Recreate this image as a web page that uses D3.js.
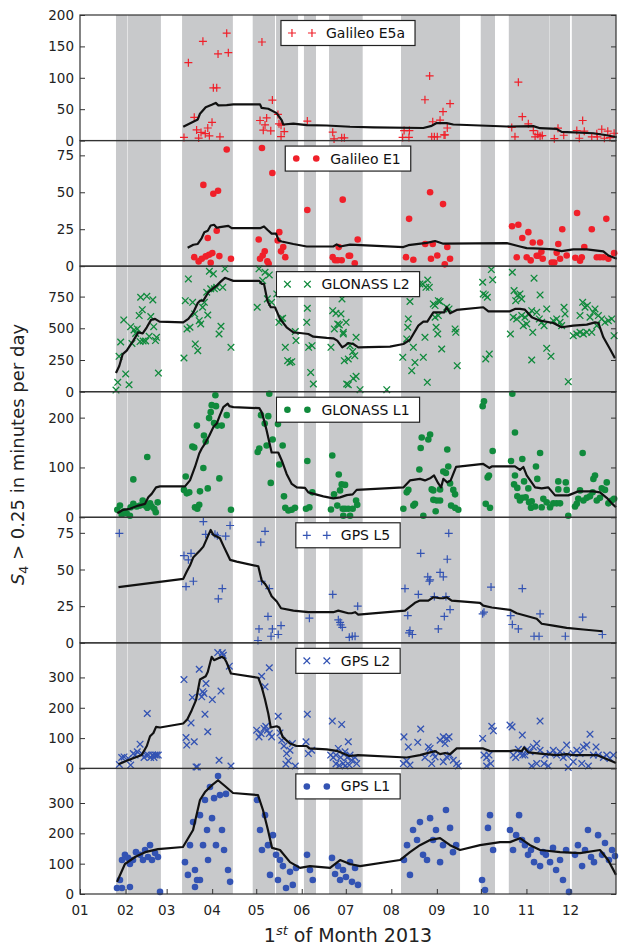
<!DOCTYPE html>
<html>
<head>
<meta charset="utf-8">
<script src="https://cdn.jsdelivr.net/npm/d3@7"></script>
<style>
  body { margin: 0; background: #fff; }
  text { font-family: "DejaVu Sans", sans-serif; }
</style>
</head>
<body>
<svg id="chart" width="627" height="947"></svg>
<script>
// periods shaded in grey, in day of year 2013
const bands = [[24.5, 32.1], [32.4, 55.1], [69.5, 104.1], [117.6, 132.8], [133.5, 148.5],
  [152.5, 160.7], [169.6, 192.5], [218.6, 258.8], [272.9, 282.6], [292, 319.6], [319.75, 333.7], [334.9, 365]];

// [day of year, minutes]
const e5aPts = [[70.8,5],[73.8,124],[77.8,37],[79.4,17],[80.8,4],[82.4,13],[83.7,158],[85.3,11],[87,20],[88.1,7.5],[89.9,29],[90.8,84],[93.1,84],[94,138],[95.3,6],[99.9,171],[101,140],
  [122.6,32],[123.9,157],[124.8,16.5],[126,25],[127.1,36],[129.9,15.5],[131,64.5],[134.8,41.6],[135.5,26.7],[136.9,24.5],[136.9,6.4],[139.1,14.4],[154.8,31],[172.1,13.3],[173,2.7],[178.2,4.3],[180,4.3],
  [219.7,5],[220.7,16],[224,5],[224.3,16],[234.9,65],[238.1,103],[239.5,6],[240.2,30],[241.3,6],[243.3,6],[245.2,32.5],[247.2,46],[247.9,9],[248.6,9],[250.1,20],[252,58.7],
  [294,21],[296.2,6],[298.5,93],[301.2,38],[305.3,26.7],[308.7,16],[309.9,6],[311.7,10],[313.3,7],[314.8,8],[323,3],[325.5,19.7],[329.4,8.5],[338.3,16],[340,3.7],[342.3,32],[343.4,15],
  [348.5,6],[351.9,11],[352.3,6],[355.3,18],[357.1,3.7],[359.4,15],[360.9,4.8],[363.7,11.7]];
const e5aLine = [[70.3,22],[80.2,33.6],[81.7,42.7],[85.6,53],[89.7,57],[92.4,60],[94.2,56],[99.9,56.5],[104.4,57.6],[122.6,57.6],[123.7,52],[128.2,50.7],[133.9,43.7],[137.4,32],[138.4,25.6],
  [145.3,27],[154.4,24.5],[168,24],[183.9,22],[199.7,21],[233.8,20],[239.5,23.5],[242.9,28],[249.7,27.7],[254.2,25.6],[290.6,22.4],[308.7,23],[313.3,19.7],[324.6,18.7],[328,13.9],[349.6,11.7],[358.7,8.5],[365.5,5.3]];

const e1Pts = [[77.8,6.1],[80.8,3.2],[82.9,5],[84,55],[85.6,6.6],[87,19],[87.9,7.7],[89,2.3],[90.1,8.8],[90.8,49],[93.1,24],[94,51],[94.9,6.8],[99.9,79],[102.8,5],
  [121.7,18],[123.9,80],[122.6,5],[124.4,7.2],[125.8,10],[127.6,3.2],[128.5,1.6],[131,63],[134.6,17.4],[135.7,23],[136.9,10],[138.4,12.9],[139.8,6.1],[154.8,38],
  [172.1,6.1],[173.7,4],[175.5,4],[178.2,4],[176.2,12.9],[178.9,45],[183,7],[183.9,7],[187.1,2],[189.1,18],
  [222,6.1],[224.1,32],[227,4.3],[235.1,15],[238.4,50],[239,5],[240.2,15],[243.3,7.2],[247.2,42],[248.4,1.2],[250.1,13],[252,5],
  [294.2,27],[297.4,6],[298.5,28],[301.2,19],[304.2,6],[305.3,23],[306.9,3.9],[308.3,16],[311,7],[312.1,7],[313.3,16],[314.2,9.7],[315.1,5],[321.2,2.5],[323,2.5],[324.6,9],[325.7,15],[326.9,5],
  [328.4,25],[331.4,7.2],[337.3,5.7],[338.5,36],[340.5,3.6],[341.7,6],[343.4,13],[348.5,25],[351.9,6],[354.1,6],[356.4,6],[358.4,32],[359.8,5],[363.7,8.8]];
const e1Line = [[73.3,12.4],[77.2,14.5],[80.2,15],[82.9,19],[84.7,23],[87,24],[89,27.5],[91.3,28],[93.1,26],[95.3,26.4],[101,27.3],[103.3,25.7],[122.6,25.7],[125.3,26.9],[127.6,24.6],[130.5,22],
  [133.5,22],[135.3,17.4],[137.4,16.7],[145.3,15],[154.4,13.3],[172.5,13.3],[174.8,14.7],[177.1,13.3],[183.9,14.6],[220.2,12.9],[223.6,14.2],[236.1,15.8],[241.8,17],[247.4,15.2],[290.6,15.6],
  [299.6,13.3],[304.2,12.2],[313.3,11.8],[322.3,11.3],[328,10.2],[335.9,11.3],[345.1,11.3],[356.4,10],[359.8,7.2],[365.5,5]];

const gloL2Pts = [[24.5,13],[25.7,74],[26.6,279],[27.7,392],[29.8,566],[31.1,140],[33.4,55],[34.5,513],[35.4,381],[36.8,487],[37.9,460],[39,495],[40.3,600],[41.3,745],[42.4,647],[43,400],[44.7,400],
  [45.5,752],[47.1,437],[48.2,592],[49.6,724],[50.2,513],[51.4,403],[52.1,429],[53.4,147],[40.9,395],
  [70.8,266],[71.7,718],[73.8,889],[72.9,495],[74.9,508],[76.7,705],[78.1,613],[78.5,377],[80.2,324],[81.2,560],[82.2,534],[83.5,666],[84.7,705],[86.3,784],[87,605],[88.1,950],[89,811],[90.8,929],
  [91.5,811],[93.1,823],[94.7,455],[96,516],[97.2,823],[98.7,969],[102.8,350],
  [120.7,666],[121.9,969],[124.4,876],[126,942],[128.9,921],[127.6,732],[130.5,705],[134,771],[135.5,547],[136.9,574],[138,579],[139.8,350],[141.4,245],[143,231],[144.2,237],[146.6,474],[147.1,403],
  [154.4,547],[154.8,658],[155.7,350],[157.1,152],[158,363],[158.9,61],
  [170.9,350],[172.1,639],[173.2,495],[174.3,618],[175.5,534],[176.6,527],[177.7,613],[178.4,732],[179.3,455],[180,245],[181.2,547],[181.6,61],[179.3,468],[183.9,363],[185.7,316],[187.1,284],
  [182.7,258],[186.1,105],[188,121],[182.7,55],[190.7,16],[188,429],[208.9,16],
  [219.8,271],[223.6,574],[223.2,508],[222.5,416],[224.7,711],[227,350],[228.1,231],[225.9,166],[231.5,850],[233.4,850],[235.6,823],[237.9,823],[236.8,880],[233.8,271],[234.9,429],[236.5,74],
  [240.6,692],[241.8,679],[244,718],[245.2,711],[241.8,587],[244,600],[242.5,508],[243.6,455],[246.3,337],[249.7,666],[251.3,653],[255.4,495],[255.9,468],[256.9,205],
  [274.2,863],[274.6,771],[276,763],[277.4,745],[276.3,258],[278.7,297],[280.1,963],[281,882],
  [293.1,455],[294.4,942],[295.6,797],[296.7,718],[297.8,758],[299.6,771],[300.8,732],[295.1,587],[297.4,574],[300.8,600],[303,587],[301.9,521],[304.2,534],[306,613],[307.6,639],[308.3,468],
  [309.2,895],[313.3,763],[307.6,250],[311,626],[312.8,574],[314.4,547],[316,521],[317.8,653],[317.8,342],[320.7,279],[322.3,560],[324.6,574],[326.9,547],[328,521],[329.6,666],[330.3,613],
  [332.5,79],[335.9,442],[338.3,455],[340.5,468],[342.8,455],[345.1,468],[340.5,600],[342.3,705],[343.9,666],[345.5,679],[347.3,587],[349.6,626],[350.7,653],[353,600],[355.3,574],[357.5,547],
  [359.8,560],[362.1,574],[363.7,442],[348.5,468],[351.9,521]];
const gloL2Line = [[24.5,147],[26.8,205],[29.1,297],[31.8,324],[36.3,403],[39.7,468],[42.7,460],[45.5,508],[48.4,566],[51.1,574],[54.1,553],[70.3,547],[73.8,574],[77.2,626],[80.2,700],[81.7,718],
  [84,718],[87.4,784],[90.8,816],[93.1,837],[95.8,868],[98.7,898],[101,889],[104.4,874],[122.1,874],[123.7,850],[125.3,850],[127.6,718],[129.9,666],[132.8,666],[136.2,574],[140.7,508],[145.3,468],
  [149.8,463],[155.5,455],[158.9,434],[168,424],[172.5,421],[175.2,403],[178.6,350],[180.5,363],[182.7,384],[186.1,376],[189.5,350],[211.1,355],[220.2,376],[224.7,410],[230.4,521],[233.8,553],
  [236.5,553],[240.6,626],[245.2,626],[248.1,626],[249.7,666],[252,618],[256.5,645],[274.6,666],[278.1,634],[292.8,634],[296.2,653],[299.6,653],[303,647],[307.6,587],[313.3,560],[322.3,542],
  [328,508],[335.9,521],[345.1,529],[350.7,547],[353,542],[356.4,429],[360.9,337],[364.3,263]];

const gloL1Pts = [[25.4,15],[27.2,23.5],[28.4,5],[30,12],[31.8,8],[34,3],[34.5,20],[36.3,27],[38.6,21.5],[40.9,23.5],[42.7,33.6],[44.3,23.5],[45.8,19],[47.7,28],[48.8,21.5],[50.6,17],[52.9,30],
  [36.3,76],[45.8,121],[51.6,10],
  [72,82],[70.8,55],[72.7,48],[74.4,50],[76.5,142],[77.8,140],[78.3,20],[79.9,17],[81.2,25],[79.6,184],[81.7,52],[84,99],[84.4,164],[85.6,152],[87,58],[87.9,199],[89,211],[89.7,225],[91.3,189],
  [92.6,223],[93.5,184],[92.2,245],[94.9,78],[96.5,184],[99.9,205],[102.8,15],
  [121,131],[122.1,138],[123.3,205],[125.8,188],[127.1,144],[128.2,203],[128.9,248],[129.9,69],[131.2,156],[134.8,187],[135.7,106],[138,144],[138.9,42],[139.8,19],[141.9,13.5],[144.2,15],[146.4,19],
  [154.8,113],[153.9,17],[156.2,20],[158.2,50],
  [170.9,15.5],[171.8,124],[173,46],[175.2,23.5],[177.1,54],[178.9,17],[176.2,86],[178.2,66],[180.5,65],[180.5,17],[182.7,17],[185.7,17],[188,33.6],[188.8,25],[179.3,3],[183.9,3],
  [220.2,17],[223.6,55],[222.5,50],[227,23.5],[228.1,27],[231.1,96],[232,139],[232.7,160],[233.8,3],[237.2,156],[238.4,166],[239.5,56],[240.6,54],[240.6,35],[242.9,33.6],[245.2,33.6],[242.2,12],
  [245.2,56],[247.4,92],[249.2,89],[250.1,136],[250.8,102],[252,68],[254.2,55],[255.4,46],[252.7,23.5],[255.4,19],[257.6,15],
  [274.2,223],[275.1,233],[276.3,27],[279.2,19],[277.6,80],[278.5,84],[281,133],
  [293.5,113],[294.4,248],[295.6,66],[297.8,59],[296.2,170],[296.2,84],[297.8,42],[299.6,33.6],[301.2,39],[301.2,117],[302.4,72],[303.5,40],[305.8,30],[307.6,32],[305.3,58],[307.1,19],[309.9,21.5],
  [310.5,102],[311.4,77],[313.3,129],[314.4,20],[315.5,37],[317.8,30],[320.1,20],[322.3,28],[324.6,28],[326.9,28],[325.7,72],[325.7,56],[330.8,70],[331.4,55],[332.5,3],[337.1,21.5],[338.3,27],
  [339.3,37],[340.5,54],[342.3,129],[342.8,33.6],[345.1,39],[347.3,42],[349.1,50],[349.6,77],[350.7,84],[351.9,33.6],[354.1,39],[355.3,58],[357.5,55],[358.7,70],[359.8,28],[362.1,33.6],[363.7,37]];
const gloL1Line = [[25.4,8],[29.4,15],[34,17],[39.7,23.5],[44.3,27],[46.5,40],[48.8,47],[51.8,60],[54.5,62],[71.5,62],[74.9,74],[78.3,101],[81.2,128],[82.9,138],[85.1,148],[88.1,164],[90.8,181],
  [93.1,188],[95.3,205],[97.6,221],[100.6,228],[101.7,223],[104.4,221],[122.1,219],[123.7,211],[125.3,195],[127.1,174],[129.4,144],[130.5,130],[135,130],[137.4,114],[140.7,87],[144.2,67],[147.6,60],
  [153.2,59],[155.5,50],[165.7,42],[172.5,38],[177.1,40],[181.6,44.5],[185.7,46],[188.4,55],[220.2,60],[224.7,74],[231.5,77],[234.9,74],[238.8,79],[241.1,84],[244,68],[245.9,60],[247.4,77],
  [250.1,70],[252.4,74],[256.1,101],[274.6,107],[278.7,99],[280.4,102],[296.2,102],[299.6,95],[301.9,101],[304.2,84],[309.9,60],[314.4,58],[318.9,60],[323.5,44],[332.5,44],[339.3,52],[349.6,52],
  [354.1,50],[358.7,39],[362.1,28],[365,20]];

const l5Pts = [[26.8,74.7],[70.8,59.5],[72.2,38.4],[73.8,56.6],[75.6,61],[77.2,42],[84,82.7],[85.6,74],[91.9,74],[93.5,73],[94.2,30],[96.9,37],[99.2,72.7],[102.2,80],
  [121.2,1.6],[121.9,9.5],[123.1,68.6],[123.7,42],[126,76],[128,18],[128.9,37],[130.1,4.5],[131,9.5],[135,5.7],[136.9,11.8],[156.2,16.8],[172.1,33],[175.9,15.7],[177.5,12.3],[178.6,10.6],
  [183.4,3.8],[177.1,14],[185.4,4.5],[187.3,4.5],[189.1,25],
  [221.3,37],[223.2,18.6],[224.7,8.4],[224.1,6.8],[226.3,5.7],[230.4,33],[232,61],[236.8,45],[237.9,42],[238.4,43],[241.3,31.6],[244,9.5],[245.2,48],[247.4,45],[248.1,18],[249.2,31.6],[250.1,57],
  [251.1,74.7],[252,22.7],
  [274.2,19.8],[275.1,20.9],[279.9,38],[293.3,18.6],[294.4,12.5],[298.5,9.5],[301.2,37],[309.2,4.5],[312.6,4.5],[313.3,19.8],[330.5,4.5],[342.3,17.5],[355.7,5.7]];
const l5Line = [[26.2,38],[70.3,43.6],[72.7,48.6],[74.9,52.7],[77.2,58.4],[81.7,63],[84,65.6],[86.3,70.9],[89,77],[90.8,73.6],[93.1,72.5],[95.3,71.3],[97.6,66.3],[102.2,56.6],[106.7,55.4],
  [121.4,52.2],[123.7,42.5],[126,40.2],[128.2,36.8],[130.5,31.8],[134,28.2],[136.9,23.6],[145.3,22],[155.5,20.9],[172.5,20.9],[175.9,22],[182.7,20.2],[185,20.2],[187.3,20.9],[189.5,19.3],
  [221.3,22],[228.1,27.3],[231.5,28.8],[237.2,28.8],[240.6,31.1],[245.2,30.4],[247.4,30.4],[249.7,31.1],[253.1,28.8],[272.4,27.3],[274.6,25.4],[280.4,24.1],[292.8,22.5],[297.4,20.2],[311,16.4],
  [314.4,13],[322.3,11.8],[331.4,10.2],[342.8,9.1],[355.7,7.9]];

const l2Pts = [[26.8,13],[28.4,36],[30,38],[32.9,33],[34.5,11],[36.3,49],[37.5,44],[39,55],[40.9,80],[42,49],[43.6,36],[45,44],[45.8,181],[46.5,44],[48.1,36],[49.5,44],[51.1,44],[52.2,44],[53.3,44],[50.4,36],
  [70.8,293],[72.2,102],[72.7,77],[75.6,150],[76.5,234],[77.8,88],[79,5],[79.9,5],[81.2,327],[82.9,236],[83.6,253],[84.4,247],[85.1,179],[85.8,280],[87,121],[90.1,227],[93.8,382],[96.9,381],
  [97.6,373],[94.7,27],[96,255],[101.7,337],[102.8,8],
  [120.3,126],[121.9,104],[123.3,115],[125.3,132],[126.5,139],[127.6,126],[128.9,115],[130.5,104],[123.7,304],[126,269],[128.9,332],[135,172],[136.2,117],[137.4,93],[138.9,74],[140.7,49],[143,60],
  [144.6,82],[140.2,14],[141.9,25],[146.6,8],
  [153.9,88],[154.8,179],[155.5,49],[157.8,60],
  [170.7,44],[171.8,156],[172.5,36],[174.3,44],[175.9,66],[177.5,36],[178.2,145],[174.3,15],[176.6,10],[180.5,8],[182,36],[180.5,55],[182.7,88],[183.9,44],[185,27],[187.3,36],[188.4,16],[179.3,16],[183.4,11],
  [220.6,104],[223.6,71],[222.5,25],[224.7,11],[220.2,16],[230,86],[232,130],[234.9,36],[237.2,71],[238.4,66],[239.5,16],[240.6,49],[241.8,38],[245.2,93],[247.4,104],[248.6,82],[249.7,99],[251.3,104],
  [252,44],[254.2,27],[256.5,16],[257.6,8],[249.7,38],[247.4,22],
  [274.2,99],[275.1,44],[276.9,36],[278.5,44],[279.7,16],[276.9,8],[280.4,139],[281.5,124],
  [292.8,143],[294.2,137],[295.1,44],[296.7,36],[298.5,63],[299.6,49],[301.5,44],[303,44],[304.6,63],[306.5,55],[308.7,71],[311,82],[313.3,60],[316.7,44],[301.2,110],[313.3,156],[307.6,8],[311,16],
  [316,16],[318.9,8],[320.1,49],[322.3,60],[324.6,44],[326.9,55],[329.1,36],[331.4,44],[332.5,3],[331.4,77],[335.9,49],[338.3,60],[340.5,49],[342.8,71],[345.1,77],[347.3,113],[349.6,44],[351.4,71],
  [353,44],[356.4,36],[358.7,44],[360.9,33],[363.2,44],[335.9,22],[341.7,16],[346.2,8]];
const l2Line = [[26.2,14],[31.8,25],[42,44],[45.5,74],[47.7,106],[50,117],[51.8,137],[54.5,135],[70.3,148],[73.1,162],[76.1,192],[79,225],[81.7,293],[85.6,304],[87,318],[89.7,368],[91.3,357],
  [94.2,363],[96.5,368],[98.3,363],[99.9,349],[102.8,313],[121.4,299],[123.7,269],[126,227],[128.2,181],[129.9,135],[134,139],[135.7,135],[138,104],[143,82],[147.6,74],[154.4,74],[156.2,66],
  [168,63],[174.8,58],[183.4,41],[189.5,44],[222.5,36],[231.5,44],[238.4,53],[241.8,57],[245.2,47],[248.6,51],[252,47],[256.5,66],[274.6,66],[279.2,57],[292.8,57],[296.2,60],[300.8,57],[302.4,69],
  [305.3,53],[313.3,49],[324.6,44],[331.4,47],[335.9,44],[351.9,44],[358.7,31],[365,18]];

const l1Pts = [[25.2,20],[27.2,46],[28.6,112],[30.6,129],[32.7,119],[34,99],[36.1,112],[38.1,138],[40.9,129],[42.9,112],[44.3,145],[46.3,122],[47.7,161],[49,112],[51.1,135],[53.1,122],[54.5,7],[34,23],[28.6,20],
  [71.5,105],[73.5,63],[74.9,161],[77,237],[78.3,79],[79.7,46],[81.7,260],[83.8,161],[85.1,310],[86.5,211],[87.2,112],[88.5,353],[89.9,250],[91.3,316],[92.6,161],[94,389],[95.3,326],[96.7,211],
  [98.1,145],[99.4,330],[100.8,79],[102.2,40],[81.7,46],[78.3,23],
  [120.5,310],[122.6,211],[123.9,145],[126,260],[128,161],[129.4,63],[131.4,194],[133.5,129],[134.8,46],[136.2,112],[138.2,92],[140.3,20],[143,73],[144.9,30],[147.1,86],
  [154.6,129],[156.6,79],[158.5,46],
  [171.6,119],[173.7,66],[175.7,92],[177.1,46],[179.1,79],[181.1,56],[183.9,105],[185.2,40],[187.3,86],[189.3,30],
  [220.6,112],[222.7,161],[224.7,63],[226.8,211],[229.5,178],[231.5,237],[233.6,129],[236.3,112],[238.4,250],[240.4,178],[242.4,211],[245.2,105],[247.2,161],[249.2,277],[252,218],[254,138],[256.1,161],
  [273.8,46],[275.8,13],[277.8,218],[279.2,260],[281.3,145],
  [292.8,211],[294.9,145],[297,194],[299,260],[301,178],[303,161],[305.1,129],[307.1,145],[309.2,105],[311.2,178],[313.3,92],[315.3,138],[317.3,129],[320.1,105],[322.1,152],[324.2,79],[326.9,112],
  [328.9,46],[331,145],[333,7],[337.1,129],[339.1,161],[341.9,92],[343.9,145],[345.9,211],[348,122],[350,105],[352.8,194],[355.5,129],[357.5,168],[360.2,112],[362.3,145],[364.3,125]];
const l1Line = [[25.2,40],[30.6,99],[37.5,122],[44.3,138],[53.1,148],[70.1,155],[77,211],[81.7,310],[85.1,336],[89.9,359],[94,375],[98.7,356],[104.2,333],[121.2,326],[124.6,277],[128,211],
  [130.8,152],[136.2,145],[143,105],[149.8,86],[156.6,92],[170.3,86],[177.1,112],[183.9,99],[190.7,92],[217.9,112],[224.7,138],[231.5,161],[238.4,178],[245.2,184],[252,161],[258.8,145],
  [272.4,161],[286,171],[292.8,171],[299.6,184],[306.5,161],[313.3,145],[326.9,138],[340.5,135],[354.1,145],[359.6,112],[365,63]];

const names = ["Galileo E5a", "Galileo E1", "GLONASS L2", "GLONASS L1", "GPS L5", "GPS L2", "GPS L1"];
const yMax = [200, 85, 990, 252, 85.6, 414, 414];
const yTicks = [[0, 50, 100, 150, 200], [0, 25, 50, 75], [0, 250, 500, 750], [0, 100, 200], [0, 25, 50, 75], [0, 100, 200, 300], [0, 100, 200, 300]];

const red = "#f0202a", green = "#108a3c", blue = "#3353b3";
const panels = [
  { pts: e5aPts, line: e5aLine, color: red, mark: "plus" },
  { pts: e1Pts, line: e1Line, color: red, mark: "dot" },
  { pts: gloL2Pts, line: gloL2Line, color: green, mark: "cross" },
  { pts: gloL1Pts, line: gloL1Line, color: green, mark: "dot" },
  { pts: l5Pts, line: l5Line, color: blue, mark: "plus" },
  { pts: l2Pts, line: l2Line, color: blue, mark: "cross" },
  { pts: l1Pts, line: l1Line, color: blue, mark: "dot" },
];

const svg = d3.select("#chart");
const padL = 80, padR = 616, padT = 15, padB = 894;
const ph = (padB - padT) / panels.length;
const t0 = new Date(2013, 0, 1);
const toDate = (d) => new Date(t0.getTime() + d * 864e5);

const x = d3.scaleTime().domain([t0, new Date(2014, 0, 1)]).range([padL, padR]);

// grey periods behind everything
svg.append("g").selectAll("rect").data(bands).join("rect")
  .attr("x", (d) => x(toDate(d[0])))
  .attr("width", (d) => x(toDate(d[1])) - x(toDate(d[0])))
  .attr("y", padT).attr("height", padB - padT)
  .attr("fill", "#c8c9cb");

function drawMark(g, kind, color) {
  if (kind === "dot") {
    g.append("circle").attr("r", 3.3).attr("fill", color);
  } else if (kind === "plus") {
    g.append("path").attr("d", "M-4,0H4M0,-4V4").attr("stroke", color).attr("stroke-width", 1.2).attr("fill", "none");
  } else {
    g.append("path").attr("d", "M-3.3,-3.3L3.3,3.3M-3.3,3.3L3.3,-3.3").attr("stroke", color).attr("stroke-width", 1.3).attr("fill", "none");
  }
}

panels.forEach((p, i) => {
  const y0 = padT + i * ph;
  const y = d3.scaleLinear().domain([0, yMax[i]]).range([y0 + ph, y0]);
  const g = svg.append("g");

  // y axis left and right, ticks inward
  g.append("g").attr("transform", `translate(${padL},0)`)
    .call(d3.axisRight(y).tickValues(yTicks[i]).tickSize(5).tickFormat(""))
    .call((a) => { a.select(".domain").remove(); a.selectAll("line").attr("stroke", "#333"); });
  g.append("g").attr("transform", `translate(${padR},0)`)
    .call(d3.axisLeft(y).tickValues(yTicks[i]).tickSize(5).tickFormat(""))
    .call((a) => { a.select(".domain").remove(); a.selectAll("line").attr("stroke", "#333"); });
  g.append("g").selectAll("text").data(yTicks[i]).join("text")
    .attr("x", padL - 6).attr("y", (d) => y(d) + 5)
    .attr("text-anchor", "end").attr("font-size", 13.5).attr("fill", "#222")
    .text((d) => d);

  // scatter
  p.pts.forEach((d) => {
    const m = g.append("g").attr("transform", `translate(${x(toDate(d[0]))},${y(d[1])})`);
    drawMark(m, p.mark, p.color);
  });

  // running line
  g.append("path").datum(p.line)
    .attr("d", d3.line().x((d) => x(toDate(d[0]))).y((d) => y(d[1])))
    .attr("fill", "none").attr("stroke", "#111").attr("stroke-width", 2.2)
    .attr("stroke-linejoin", "round");

  g.append("rect").attr("x", padL).attr("y", y0).attr("width", padR - padL).attr("height", ph)
    .attr("fill", "none").attr("stroke", "#333").attr("stroke-width", 1.2);

  // legend
  const lg = g.append("g");
  const box = lg.append("rect").attr("fill", "#fff").attr("stroke", "#222").attr("stroke-width", 1.2);
  const txt = lg.append("text").attr("font-size", 14).attr("fill", "#111").text(names[i]);
  const tw = txt.node().getComputedTextLength();
  const bw = tw + 55, bx = (padL + padR) / 2 - bw / 2, by = y0 + 5.5, bh = 25;
  box.attr("x", bx).attr("y", by).attr("width", bw).attr("height", bh);
  txt.attr("x", bx + 45).attr("y", by + 17.5);
  [bx + 11, bx + 31].forEach((mx) => {
    drawMark(lg.append("g").attr("transform", `translate(${mx},${by + bh / 2})`), p.mark, p.color);
  });
});

// month axis
const months = d3.timeMonth.range(t0, new Date(2013, 11, 2));
svg.append("g").attr("transform", `translate(0,${padB})`)
  .call(d3.axisTop(x).tickValues(months).tickSize(5).tickFormat(""))
  .call((a) => { a.select(".domain").remove(); a.selectAll("line").attr("stroke", "#333"); });
svg.append("g").selectAll("text").data(months).join("text")
  .attr("x", (d) => x(d)).attr("y", padB + 21)
  .attr("text-anchor", "middle").attr("font-size", 13.5).attr("fill", "#222")
  .text(d3.timeFormat("%m"));

// axis titles
const xl = svg.append("text").attr("x", (padL + padR) / 2).attr("y", 942)
  .attr("text-anchor", "middle").attr("font-size", 19).attr("fill", "#222");
xl.append("tspan").text("1");
xl.append("tspan").attr("font-size", 13).attr("font-style", "italic").attr("dy", -7).text("st");
xl.append("tspan").attr("dy", 7).text(" of Month 2013");

const yl = svg.append("text").attr("transform", `translate(24,${(padT + padB) / 2}) rotate(-90)`)
  .attr("text-anchor", "middle").attr("font-size", 18).attr("fill", "#222");
yl.append("tspan").attr("font-style", "italic").text("S");
yl.append("tspan").attr("font-size", 12.5).attr("dy", 4).text("4");
yl.append("tspan").attr("dy", -4).text(" > 0.25 in minutes per day");
</script>
</body>
</html>
